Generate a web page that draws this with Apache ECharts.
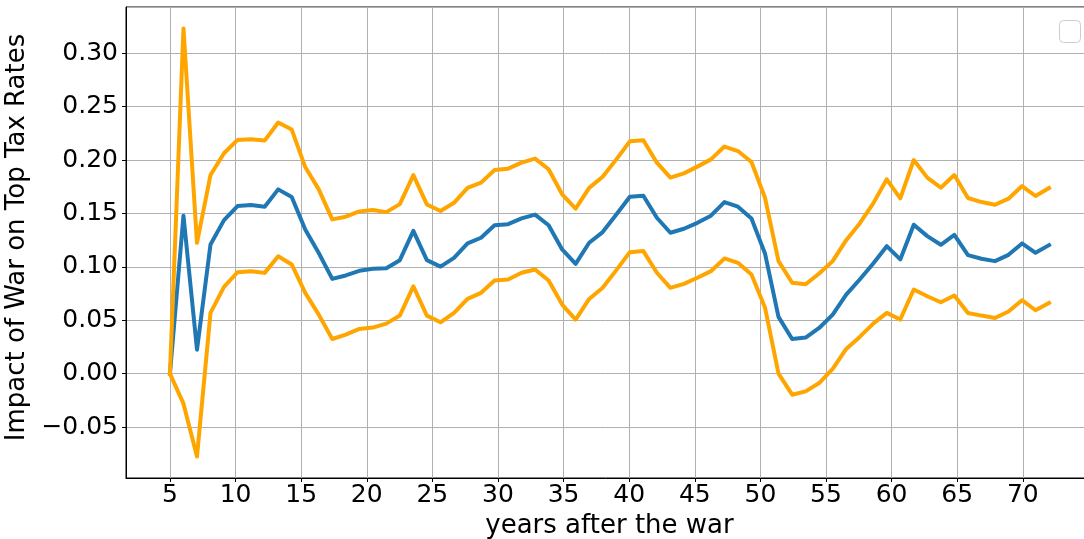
<!DOCTYPE html>
<html>
<head>
<meta charset="utf-8">
<script src="https://cdn.jsdelivr.net/npm/echarts@6/dist/echarts.min.js"></script>
<style>
  html, body { margin: 0; padding: 0; background: #fff; }
  #main { width: 1084px; height: 539px; }
</style>
</head>
<body>
<div id="main"></div>
<script>
// years after the war (x position of each point)
const years = [5.00, 6.03, 7.06, 8.09, 9.12, 10.15, 11.18, 12.22, 13.25, 14.28, 15.31, 16.34, 17.37, 18.40, 19.43,
  20.46, 21.49, 22.52, 23.55, 24.58, 25.62, 26.65, 27.68, 28.71, 29.74, 30.77, 31.80, 32.83, 33.86, 34.89,
  35.92, 36.95, 37.98, 39.02, 40.05, 41.08, 42.11, 43.14, 44.17, 45.20, 46.23, 47.26, 48.29, 49.32, 50.35,
  51.38, 52.42, 53.45, 54.48, 55.51, 56.54, 57.57, 58.60, 59.63, 60.66, 61.69, 62.72, 63.75, 64.78, 65.82,
  66.85, 67.88, 68.91, 69.94, 70.97, 72.00];

// point estimate (blue)
const impact = [0.000, 0.148, 0.0225, 0.121, 0.1438, 0.157, 0.158, 0.1564, 0.1726, 0.1654, 0.135, 0.113, 0.0888, 0.092, 0.0963,
  0.0982, 0.0988, 0.1063, 0.1338, 0.1063, 0.1003, 0.1085, 0.122, 0.1273, 0.139, 0.140, 0.1454, 0.149, 0.139, 0.1163,
  0.1029, 0.1226, 0.1326, 0.149, 0.1657, 0.1667, 0.146, 0.132, 0.1357, 0.1413, 0.148, 0.1607, 0.1564, 0.1454, 0.1126,
  0.0532, 0.0325, 0.0338, 0.0428, 0.0553, 0.0741, 0.0882, 0.1032, 0.1194, 0.107, 0.1395, 0.1288, 0.1207, 0.130, 0.111,
  0.1076, 0.1054, 0.1113, 0.122, 0.1132, 0.1204];

// upper band (orange)
const upper = [0.000, 0.3233, 0.1226, 0.186, 0.2064, 0.2189, 0.2195, 0.2183, 0.2352, 0.2286, 0.1935, 0.1726, 0.1445, 0.147, 0.152,
  0.1532, 0.1513, 0.1588, 0.186, 0.1585, 0.1523, 0.160, 0.174, 0.1789, 0.1907, 0.192, 0.1976, 0.2014, 0.1914, 0.168,
  0.1545, 0.174, 0.1845, 0.2007, 0.2176, 0.2186, 0.1976, 0.1836, 0.1876, 0.1939, 0.2007, 0.2127, 0.2085, 0.1982, 0.1648,
  0.1054, 0.0851, 0.0838, 0.0938, 0.1054, 0.125, 0.1407, 0.1595, 0.182, 0.1642, 0.2001, 0.1836, 0.1742, 0.186, 0.1645,
  0.1607, 0.1582, 0.1639, 0.1757, 0.1664, 0.1739];

// lower band (orange)
const lower = [0.000, -0.0281, -0.0776, 0.0569, 0.0813, 0.095, 0.096, 0.0944, 0.110, 0.1023, 0.0757, 0.0553, 0.0325, 0.0366, 0.0419,
  0.0432, 0.0469, 0.0544, 0.0819, 0.0544, 0.0481, 0.0569, 0.070, 0.0757, 0.0872, 0.0882, 0.0945, 0.0976, 0.0872, 0.0647,
  0.0507, 0.070, 0.0804, 0.097, 0.1138, 0.1148, 0.0945, 0.0804, 0.0841, 0.0898, 0.096, 0.1079, 0.1038, 0.0929, 0.062,
  0.000, -0.0197, -0.0166, -0.0088, 0.0044, 0.0232, 0.0344, 0.0469, 0.0569, 0.0507, 0.0788, 0.0725, 0.0669, 0.0732, 0.0569,
  0.0544, 0.0522, 0.0582, 0.0688, 0.0594, 0.0663];

const font = 'DejaVu Sans';

function pairs(ys) {
  return years.map((x, i) => [x, ys[i]]);
}

function lineSeries(name, ys, color, z) {
  return {
    name: name,
    type: 'line',
    data: pairs(ys),
    showSymbol: false,
    symbol: 'none',
    z: z,
    lineStyle: { color: color, width: 4, join: 'round', cap: 'square' },
    emphasis: { disabled: true }
  };
}

let myChart = echarts.init(document.getElementById('main'), null, { renderer: 'canvas' });
let option = {
  animation: false,
  backgroundColor: '#ffffff',
  textStyle: { fontFamily: font },
  grid: {
    left: 126,
    top: 7,
    width: 967,
    height: 471,
    containLabel: false,
    outerBoundsMode: 'none',
    show: true,
    borderColor: '#000',
    borderWidth: 1,
    backgroundColor: 'transparent'
  },
  xAxis: {
    type: 'value',
    min: 1.65,
    max: 75.35,
    splitNumber: 14,
    name: 'years after the war',
    nameLocation: 'middle',
    nameGap: 30,
    nameTextStyle: { fontSize: 26, color: '#000', fontFamily: font },
    axisLine: { show: true, onZero: false, lineStyle: { color: '#000', width: 1 } },
    axisTick: { show: true, length: 4, lineStyle: { color: '#000' } },
    axisLabel: {
      fontSize: 25, color: '#000', fontFamily: font, margin: 5,
      showMinLabel: false, showMaxLabel: false,
      formatter: v => (Math.abs(v % 5) < 1e-6 && v <= 72) ? String(Math.round(v)) : ''
    },
    splitLine: { show: true, lineStyle: { color: '#b0b0b0', width: 1 } }
  },
  yAxis: {
    type: 'value',
    min: -0.0977,
    max: 0.3434,
    splitNumber: 9,
    name: 'Impact of War on Top Tax Rates',
    nameLocation: 'middle',
    nameGap: 83,
    nameTextStyle: { fontSize: 26, color: '#000', fontFamily: font, padding: [0, 0, 0, 10] },
    axisLine: { show: true, onZero: false, lineStyle: { color: '#000', width: 1 } },
    axisTick: { show: true, length: 4, lineStyle: { color: '#000' } },
    axisLabel: {
      fontSize: 25, color: '#000', fontFamily: font, margin: 8,
      showMinLabel: false, showMaxLabel: false,
      formatter: v => v.toFixed(2).replace('-', '\u2212')
    },
    splitLine: { show: true, lineStyle: { color: '#b0b0b0', width: 1 } }
  },
  series: [
    lineSeries('impact', impact, '#1f77b4', 2),
    lineSeries('upper', upper, '#ffa500', 3),
    lineSeries('lower', lower, '#ffa500', 4)
  ],
  // the empty legend box in the top right corner
  graphic: [{
    type: 'rect',
    left: 1059,
    top: 20,
    shape: { width: 21, height: 22, r: 4 },
    style: { fill: '#fff', stroke: '#cccccc', lineWidth: 1 },
    z: 100
  }]
};
myChart.setOption(option);
</script>
</body>
</html>
